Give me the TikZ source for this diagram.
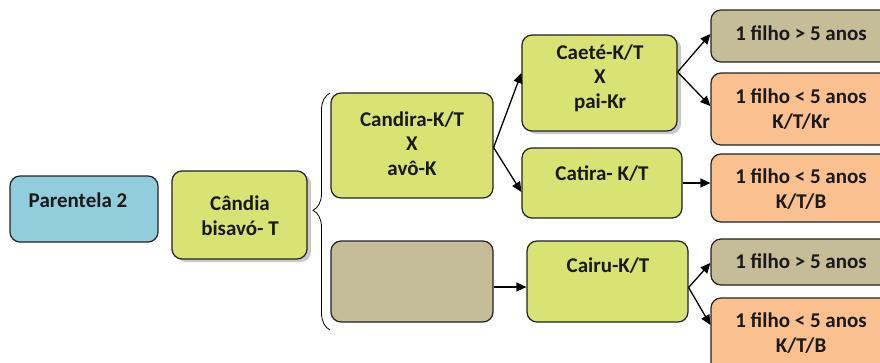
\documentclass[tikz,border=0pt]{standalone}
\usepackage{fontspec}
\setmainfont{Carlito}
\usetikzlibrary{arrows.meta,shadows,decorations.pathreplacing}
\definecolor{cblue}{HTML}{92CDDC}
\definecolor{cgreen}{HTML}{D9E373}
\definecolor{ctan}{HTML}{C4BD97}
\definecolor{corange}{HTML}{FAC090}
\definecolor{cline}{HTML}{222222}
\tikzset{
  box/.style={draw=cline, line width=1.2pt, rounded corners=10pt, inner sep=0pt},
  shad/.style={drop shadow={shadow xshift=4pt, shadow yshift=-3pt, fill=black!35, opacity=0.6}},
  txt/.style={font=\fontsize{21}{24.5}\selectfont\bfseries, align=center, anchor=base, inner sep=0pt, text=black!90},
  arr/.style={-{Triangle[length=10pt,width=9pt]}, line width=1.3pt, draw=black},
}
\newcommand{\boxat}[7]{% name, style, fill, x1, y1, x2, y2
  \node[box,#2,fill=#3,minimum width={#6-#4}, minimum height={#7-#5}] (#1) at ({(#4+#6)/2},{-(#5+#7)/2}) {};}
\begin{document}
\begin{tikzpicture}[x=1pt,y=1pt]
\useasboundingbox (0,0) rectangle (880,-362);
\fill[white] (0,0) rectangle (880,-362);

% left column
\boxat{par}{}{cblue}{10}{176}{158}{242}
\node[txt] (partxt) at (78,-207) {Parentela 2};
\boxat{cand}{shad}{cgreen}{172}{171}{307}{259}
\node[txt] (candtxt) at (240,-235) {Cândia\\bisavó- T};

% brace grouping the two lines of descent
\coordinate (bb) at (330,-330);
\coordinate (bt) at (330,-93);
\draw[line width=0.8pt, decorate, decoration={brace, amplitude=17pt, aspect=0.505}] (bb) -- (bt);

% second column
\boxat{cdr}{}{cgreen}{331}{93}{493}{198}
\node[txt] (cdrtxt) at (412,-175) {Candira-K/T\\X\\avô-K};
\boxat{tanb}{}{ctan}{331}{241}{493}{322}

% third column
\boxat{cae}{shad}{cgreen}{522}{35}{677}{131}
\node[txt] (caetxt) at (600,-108) {Caeté-K/T\\X\\pai-Kr};
\boxat{cat}{}{cgreen}{522}{148}{682}{218}
\node[txt] (cattxt) at (602,-180) {Catira- K/T};
\boxat{cai}{}{cgreen}{527}{241}{688}{322}
\node[txt] (caitxt) at (608,-272) {Cairu-K/T};

% right column
\boxat{r1}{}{ctan}{711}{10}{892}{62}
\node[txt] (r1t) at (801,-40) {1 filho > 5 anos};
\boxat{r2}{}{corange}{711}{73}{892}{145}
\node[txt] (r2t) at (801,-128) {1 filho < 5 anos\\K/T/Kr};
\boxat{r3}{}{corange}{711}{154}{892}{222}
\node[txt] (r3t) at (801,-208) {1 filho < 5 anos\\K/T/B};
\boxat{r4}{}{ctan}{711}{239}{892}{285}
\node[txt] (r4t) at (801,-268) {1 filho > 5 anos};
\boxat{r5}{}{corange}{711}{298}{892}{380}
\node[txt] (r5t) at (801,-352) {1 filho < 5 anos\\K/T/B};

% connectors
\draw[arr] ([yshift=-2pt]cdr.east) -- ([yshift=10pt]cae.west);
\draw[arr] ([yshift=-2pt]cdr.east) -- ([yshift=-9pt]cat.west);
\draw[arr] ([yshift=-5.5pt]tanb.east) -- ([yshift=-5.5pt]cai.east -| cai.west);
\draw[arr] ([yshift=11pt]cae.east) -- ([yshift=2pt]r1.west);
\draw[arr] ([yshift=11pt]cae.east) -- ([yshift=3pt]r2.west);
\draw[arr] ([yshift=0pt]cat.east) -- (cat.east -| r3.west);
\draw[arr] ([yshift=-6pt]cai.east) -- ([yshift=-1pt]r4.west);
\draw[arr] ([yshift=-6pt]cai.east) -- ([yshift=14pt]r5.west);
\end{tikzpicture}
\end{document}
